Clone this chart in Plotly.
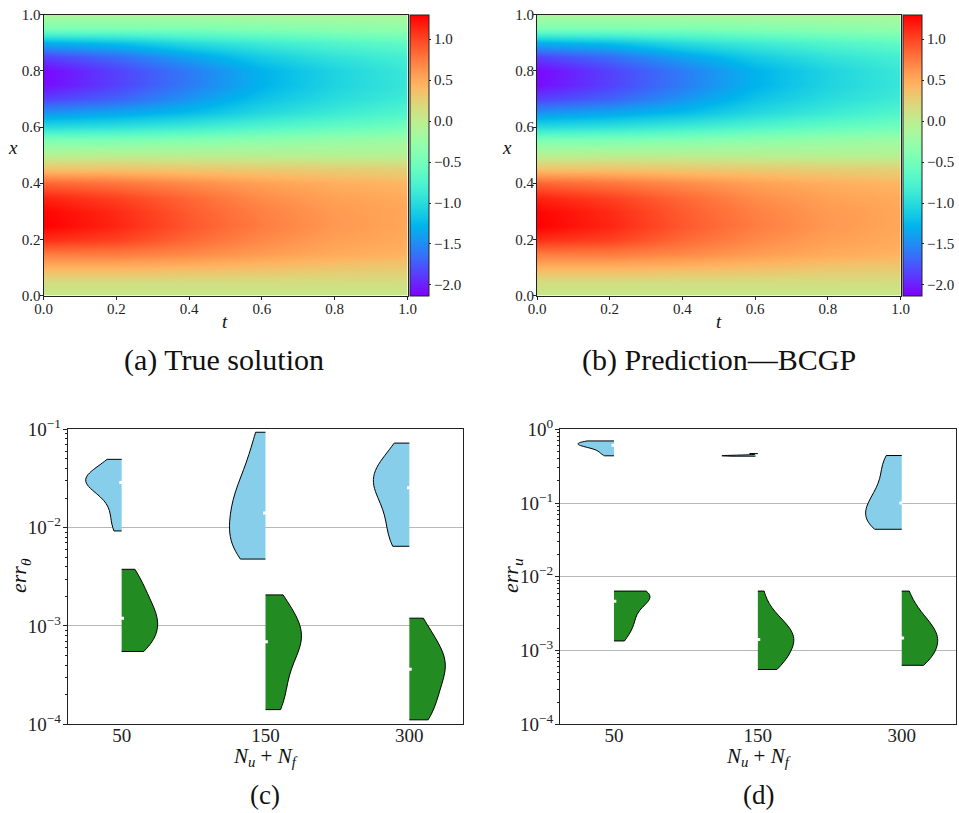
import numpy as np
import plotly.graph_objects as go

W, H = 959, 813

# ---------------- heatmap data ----------------
t_grid = [0.0, 0.2, 0.4, 0.6, 0.8, 1.0]
x_grid = [0.00, 0.05, 0.10, 0.15, 0.20, 0.25, 0.30, 0.35, 0.40, 0.45, 0.50,
          0.55, 0.60, 0.65, 0.70, 0.75, 0.80, 0.85, 0.90, 0.95, 1.00]
# rows follow x_grid, columns follow t_grid
u_true = [
    [0.05, 0.05, 0.05, 0.05, 0.05, 0.05],
    [0.15, 0.15, 0.15, 0.15, 0.15, 0.15],
    [0.45, 0.45, 0.42, 0.38, 0.33, 0.30],
    [0.75, 0.75, 0.68, 0.58, 0.50, 0.45],
    [1.10, 1.02, 0.84, 0.68, 0.56, 0.50],
    [1.30, 1.14, 0.92, 0.74, 0.60, 0.52],
    [1.28, 1.12, 0.90, 0.72, 0.59, 0.52],
    [1.15, 1.02, 0.84, 0.66, 0.55, 0.50],
    [0.85, 0.77, 0.66, 0.55, 0.47, 0.42],
    [0.35, 0.35, 0.32, 0.30, 0.27, 0.25],
    [-0.05, -0.03, -0.03, -0.04, -0.05, -0.05],
    [-0.40, -0.40, -0.35, -0.30, -0.25, -0.20],
    [-1.00, -0.95, -0.85, -0.72, -0.60, -0.50],
    [-1.45, -1.35, -1.22, -1.02, -0.86, -0.72],
    [-1.85, -1.70, -1.45, -1.18, -0.99, -0.85],
    [-2.08, -1.85, -1.58, -1.28, -1.06, -0.90],
    [-2.10, -1.85, -1.58, -1.28, -1.06, -0.88],
    [-1.85, -1.65, -1.38, -1.12, -0.93, -0.80],
    [-1.30, -1.20, -1.00, -0.85, -0.72, -0.62],
    [-0.45, -0.45, -0.45, -0.40, -0.35, -0.30],
    [-0.12, -0.12, -0.12, -0.12, -0.12, -0.12],
]
u_pred = [row[:] for row in u_true]  # BCGP prediction: visually identical
z_min, z_max = -2.13, 1.30
cbar_ticks = [-2.0, -1.5, -1.0, -0.5, 0.0, 0.5, 1.0]
axis_ticks = [0.0, 0.2, 0.4, 0.6, 0.8, 1.0]

# ---------------- violin data (error samples) ----------------
categories = ["50", "150", "300"]
cat_pos = [0, 1, 2]

err_theta_blue_50 = [0.0495, 0.0417, 0.0380, 0.0347, 0.0324, 0.0309, 0.0295, 0.0288,
                     0.0275, 0.0251, 0.0224, 0.0191, 0.0151, 0.0117, 0.00925]
err_theta_blue_150 = [0.0933, 0.0661, 0.0437, 0.0339, 0.0275, 0.0234, 0.0200, 0.0174,
                      0.0151, 0.0132, 0.0112, 0.00955, 0.00813, 0.00708, 0.00631,
                      0.00562, 0.00525, 0.00479]
err_theta_blue_300 = [0.0724, 0.0562, 0.0468, 0.0417, 0.0372, 0.0331, 0.0316, 0.0295,
                      0.0269, 0.0240, 0.0209, 0.0178, 0.0148, 0.0120, 0.00955,
                      0.00759, 0.00692, 0.00646]
err_theta_green_50 = [0.00377, 0.00316, 0.00263, 0.00219, 0.00191, 0.00166, 0.00145,
                      0.00132, 0.00120, 0.00110, 0.00100, 0.000912, 0.000813,
                      0.000724, 0.000631, 0.000589, 0.000550]
err_theta_green_150 = [0.00207, 0.00174, 0.00145, 0.00120, 0.00102, 0.000891, 0.000794,
                       0.000741, 0.000692, 0.000617, 0.000525, 0.000427, 0.000331,
                       0.000251, 0.000191, 0.000158, 0.000141]
err_theta_green_300 = [0.00120, 0.000955, 0.000759, 0.000631, 0.000550, 0.000490,
                       0.000437, 0.000398, 0.000363, 0.000324, 0.000282, 0.000240,
                       0.000200, 0.000166, 0.000135, 0.000120, 0.000111]

err_u_blue_50 = [0.695, 0.690, 0.676, 0.661, 0.646, 0.631, 0.617, 0.603, 0.596, 0.575,
                 0.537, 0.501, 0.468, 0.437]
err_u_blue_150 = [0.432, 0.435, 0.437, 0.439, 0.442, 0.447, 0.468]
err_u_blue_300 = [0.441, 0.427, 0.380, 0.316, 0.251, 0.200, 0.166, 0.141, 0.120,
                  0.107, 0.100, 0.0912, 0.0832, 0.0741, 0.0661, 0.0589, 0.0525,
                  0.0501, 0.0479, 0.0457, 0.0441]
err_u_green_50 = [0.0064, 0.00631, 0.00617, 0.00603, 0.00575, 0.00550, 0.00525,
                  0.00501, 0.00437, 0.00355, 0.00302, 0.00263, 0.00234, 0.00200,
                  0.00166, 0.00135]
err_u_green_150 = [0.0064, 0.00355, 0.00282, 0.00240, 0.00209, 0.00186, 0.00170,
                   0.00155, 0.00141, 0.00129, 0.00117, 0.00105, 0.000912, 0.000794,
                   0.000661, 0.000603, 0.000553]
err_u_green_300 = [0.0064, 0.00398, 0.00316, 0.00263, 0.00229, 0.00200, 0.00178,
                   0.00162, 0.00148, 0.00135, 0.00123, 0.00110, 0.000955, 0.000832,
                   0.000724, 0.000661, 0.000631]

theta_decades = [-4, -3, -2, -1]
u_decades = [-4, -3, -2, -1, 0]

# ---------------- styling ----------------
FONT = "Liberation Serif, serif"
BLUE = "#87CEEB"
GREEN = "#228B22"
FRAME = "#222222"


def px(x):
    return x / W


def py(y):
    return 1 - y / H


def rainbow_scale(n=41):
    stops = []
    for i in range(n):
        s = i / (n - 1)
        r = min(1.0, abs(2 * s - 0.5))
        g = np.sin(np.pi * s)
        b = np.cos(np.pi * s / 2)
        stops.append([s, "rgb(%d,%d,%d)" % (round(255 * r), round(255 * max(g, 0)),
                                            round(255 * max(b, 0)))])
    return stops


fig = go.Figure()

# heatmap panels: (plot left, right, top, bottom, colorbar left) in px
heat_boxes = [(43.5, 407.5, 14.7, 295.5, 410.0), (537.0, 900.5, 14.7, 295.5, 903.3)]
heat_data = [u_true, u_pred]
for k, (box, z) in enumerate(zip(heat_boxes, heat_data)):
    l, r, t, b, cbx = box
    xa = "x" if k == 0 else "x%d" % (k + 1)
    ya = "y" if k == 0 else "y%d" % (k + 1)
    fig.add_trace(go.Heatmap(
        x=t_grid, y=x_grid, z=z, zmin=z_min, zmax=z_max, zsmooth="best",
        colorscale=rainbow_scale(), xaxis=xa, yaxis=ya, hoverinfo="skip",
        colorbar=dict(
            x=px(cbx), xanchor="left", xpad=0, ypad=0,
            y=py((t + b) / 2), yanchor="middle", len=(b - t) / H, lenmode="fraction",
            thickness=19, outlinewidth=1, outlinecolor=FRAME,
            tickvals=cbar_ticks, tickformat=".1f", ticks="outside", ticklen=2,
            tickcolor=FRAME, tickfont=dict(family=FONT, size=15, color="#222"),
        ),
    ))
    axname = "xaxis" if k == 0 else "xaxis%d" % (k + 1)
    ayname = "yaxis" if k == 0 else "yaxis%d" % (k + 1)
    fig.layout[axname] = dict(
        domain=[px(l), px(r)], range=[0, 1], anchor=ya, tickvals=axis_ticks,
        tickformat=".1f", ticks="outside", ticklen=3, tickcolor=FRAME,
        showline=True, mirror=True, linecolor=FRAME, linewidth=1, showgrid=False,
        zeroline=False, automargin=False, ticklabelstandoff=-4,
        tickfont=dict(family=FONT, size=15, color="#222"),
    )
    fig.layout[ayname] = dict(
        domain=[py(b), py(t)], range=[0, 1], anchor=xa, tickvals=axis_ticks,
        tickformat=".1f", ticks="outside", ticklen=3, tickcolor=FRAME,
        showline=True, mirror=True, linecolor=FRAME, linewidth=1, showgrid=False,
        zeroline=False, automargin=False, ticklabelstandoff=-4,
        tickfont=dict(family=FONT, size=15, color="#222"),
    )

# violin panels
vio_boxes = [(67.7, 463.3, 429.3, 724.3), (560.0, 955.7, 429.3, 724.3)]
vio_sets = [
    ([err_theta_blue_50, err_theta_blue_150, err_theta_blue_300],
     [err_theta_green_50, err_theta_green_150, err_theta_green_300], theta_decades),
    ([err_u_blue_50, err_u_blue_150, err_u_blue_300],
     [err_u_green_50, err_u_green_150, err_u_green_300], u_decades),
]
for k, (box, (blues, greens, decades)) in enumerate(zip(vio_boxes, vio_sets)):
    l, r, t, b = box
    n = k + 3
    xa, ya = "x%d" % n, "y%d" % n
    for side, color, groups in (("negative", BLUE, blues), ("positive", GREEN, greens)):
        for pos, vals in zip(cat_pos, groups):
            lv = np.log10(vals)
            fig.add_trace(go.Violin(
                x=[pos] * len(vals), y=lv, side=side, spanmode="hard", width=0.5,
                scalemode="width", points=False, fillcolor=color, opacity=1,
                line=dict(color="black", width=1), xaxis=xa, yaxis=ya,
                hoverinfo="skip", showlegend=False,
            ))
            fig.add_trace(go.Scatter(
                x=[pos + (-0.006 if side == "negative" else 0.006)], y=[np.median(lv)],
                mode="markers", marker=dict(color="white", size=3, symbol="square"),
                xaxis=xa, yaxis=ya, hoverinfo="skip", showlegend=False,
            ))
    minor_vals = [np.log10(m) + d for d in decades[:-1] for m in range(2, 10)]
    fig.layout["xaxis%d" % n] = dict(
        domain=[px(l), px(r)], range=[-0.375, 2.375], anchor=ya,
        tickvals=cat_pos, ticktext=categories, ticks="", showgrid=False,
        zeroline=False, showline=True, mirror=True, linecolor=FRAME, linewidth=1,
        automargin=False, ticklabelstandoff=-6,
        tickfont=dict(family=FONT, size=19, color="#222"),
    )
    fig.layout["yaxis%d" % n] = dict(
        domain=[py(b), py(t)], range=[decades[0], decades[-1]], anchor=xa,
        tickvals=decades, ticktext=["10<sup>\u2212%d</sup>" % (-d) if d < 0 else "10<sup>0</sup>"
                                    for d in decades],
        ticks="outside", ticklen=4, tickcolor=FRAME, showgrid=True, gridcolor="#b8b8b8",
        gridwidth=1, zeroline=False, showline=True, mirror=True, linecolor=FRAME,
        linewidth=1, automargin=False, ticklabelstandoff=-2,
        tickfont=dict(family=FONT, size=19, color="#222"),
        minor=dict(tickvals=minor_vals, ticks="outside", ticklen=2, tickcolor=FRAME,
                   showgrid=False),
    )

# text: axis titles and captions
ann = []


def add_text(x, y, text, size, angle=0):
    ann.append(dict(x=px(x), y=py(y), xref="paper", yref="paper", text=text,
                    showarrow=False, textangle=angle, xanchor="center", yanchor="middle",
                    font=dict(family=FONT, size=size, color="#111")))


add_text(225, 322, "<i>t</i>", 19)
add_text(719, 322, "<i>t</i>", 19)
add_text(13, 147, "<i>x</i>", 19)
add_text(507, 147, "<i>x</i>", 19)
add_text(224, 360, "(a) True solution", 30)
add_text(719, 360, "(b) Prediction\u2014BCGP", 30)
add_text(265, 757, "<i>N</i><sub><i>u</i></sub> + <i>N</i><sub><i>f</i></sub>", 21)
add_text(758, 757, "<i>N</i><sub><i>u</i></sub> + <i>N</i><sub><i>f</i></sub>", 21)
add_text(20, 576, "<i>err</i><sub><i>\u03b8</i></sub>", 22, -90)
add_text(512, 576, "<i>err</i><sub><i>u</i></sub>", 22, -90)
add_text(265, 795, "(c)", 27)
add_text(758, 795, "(d)", 27)

fig.update_layout(
    width=W, height=H, margin=dict(l=0, r=0, t=0, b=0, autoexpand=False),
    paper_bgcolor="white", plot_bgcolor="white", violinmode="overlay",
    showlegend=False, annotations=ann, font=dict(family=FONT),
)

fig.write_html("out.html")
